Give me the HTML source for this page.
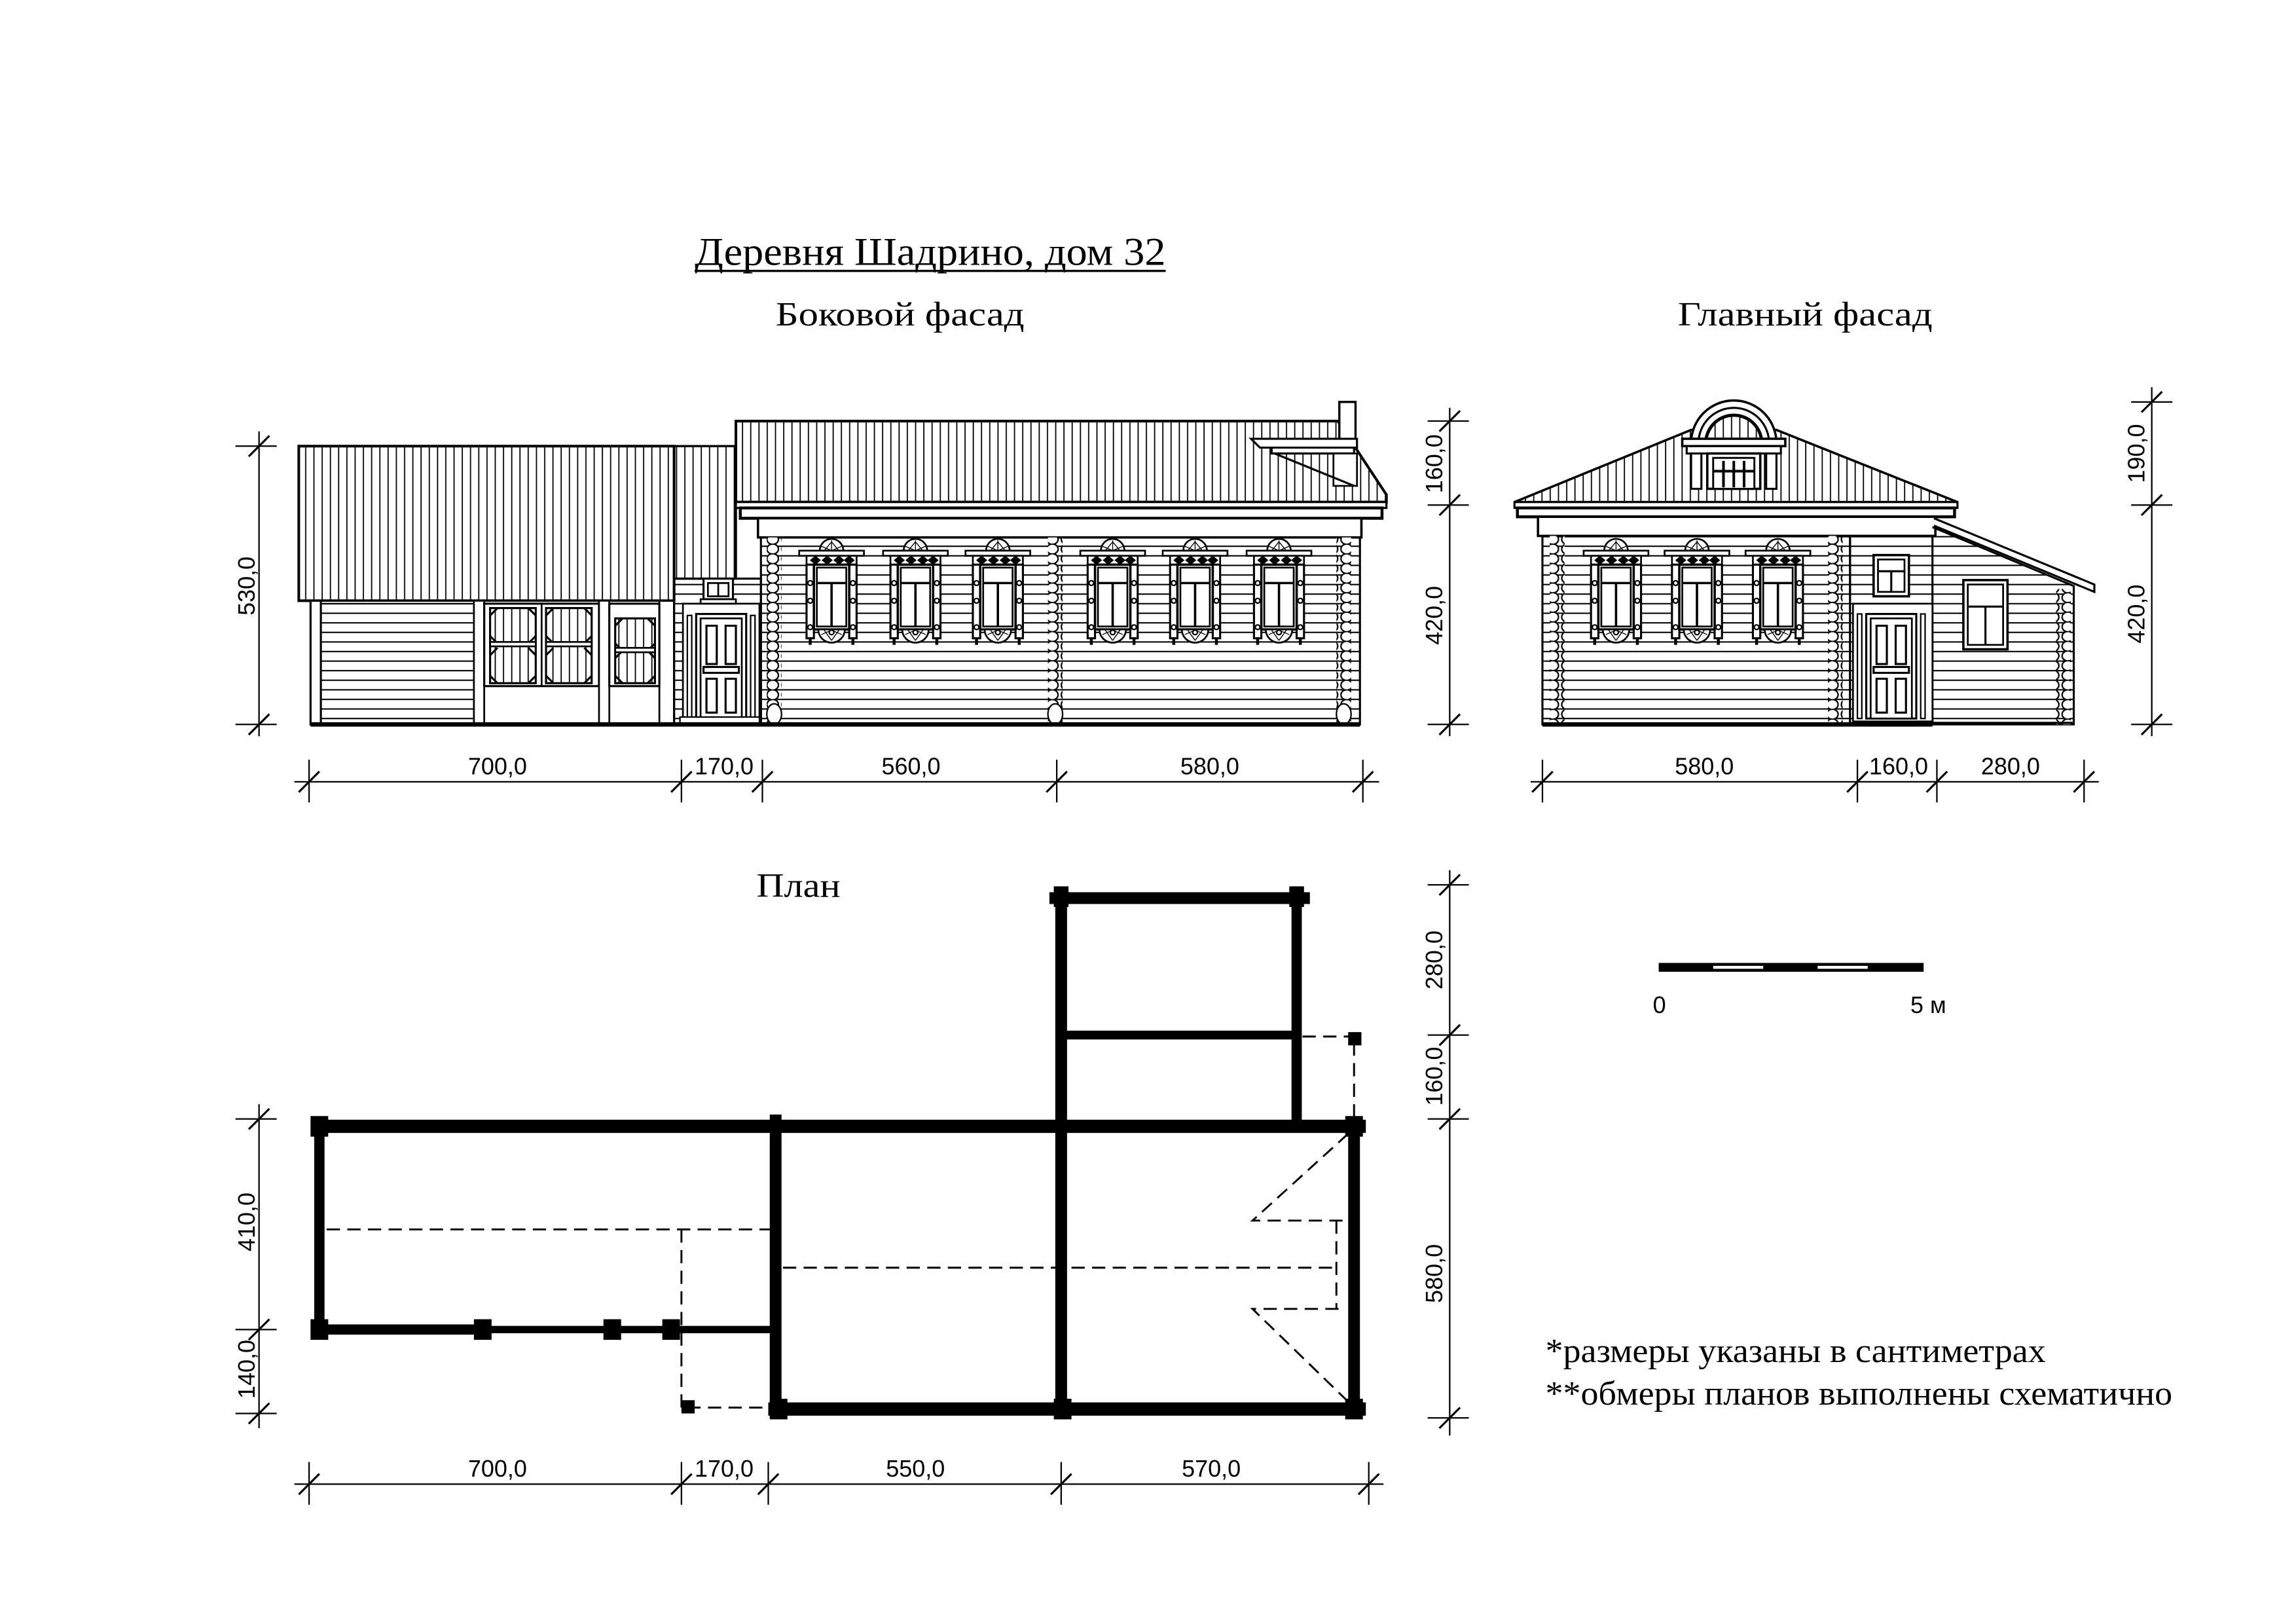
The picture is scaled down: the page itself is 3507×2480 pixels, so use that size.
<!DOCTYPE html>
<html><head><meta charset="utf-8"><style>
html,body{margin:0;padding:0;background:#fff}
svg{display:block}
.s{font-family:"Liberation Serif","Noto Serif CJK SC",serif}
.d{font-family:"Liberation Sans",sans-serif;font-size:16px}
</style></head><body>
<svg width="3507" height="2480" viewBox="0 0 1560 1103" preserveAspectRatio="none" xmlns="http://www.w3.org/2000/svg">
<defs>
<pattern id="vh" patternUnits="userSpaceOnUse" width="5.6" height="10"><line x1="0.5" y1="0" x2="0.5" y2="10" stroke="#000" stroke-width="0.8"/></pattern>
<pattern id="sd" patternUnits="userSpaceOnUse" width="10" height="6.5"><line x1="0" y1="0.5" x2="10" y2="0.5" stroke="#000" stroke-width="0.9"/></pattern>
<pattern id="lg" patternUnits="userSpaceOnUse" width="10" height="6.6"><ellipse cx="5" cy="3.3" rx="3.9" ry="3.4" fill="#fff" stroke="#000" stroke-width="1"/></pattern>
<g id="win">
 <path d="M-8,10 A8,8 0 0 1 8,10 Z" fill="#fff" stroke="#000" stroke-width="1.2"/>
 <path d="M-5,10 L0,4 M5,10 L0,4 M0,3 L0,10 M-7,7 L0,10 M7,7 L0,10" stroke="#000" stroke-width="0.6"/>
 <rect x="-22" y="10" width="44" height="3.5" fill="#fff" stroke="#000" stroke-width="1.2"/>
 <rect x="-17" y="13.5" width="34" height="6" fill="#fff" stroke="#000" stroke-width="1.2"/>
 <path d="M-14,16.5 l3,-2.5 3,2.5 -3,2.5z M-6,16.5 l3,-2.5 3,2.5 -3,2.5z M2,16.5 l3,-2.5 3,2.5 -3,2.5z M9,16.5 l3,-2.5 3,2.5 -3,2.5z" fill="#000"/>
 <rect x="-17" y="19.5" width="5" height="50" fill="#fff" stroke="#000" stroke-width="1.4"/>
 <rect x="12" y="19.5" width="5" height="50" fill="#fff" stroke="#000" stroke-width="1.4"/>
 <path d="M-14.5,70 l0,4 M14.5,70 l0,4" stroke="#000" stroke-width="2"/>
 <circle cx="-14.5" cy="32" r="1.6"/><circle cx="14.5" cy="32" r="1.6"/><circle cx="-14.5" cy="44" r="1.6"/><circle cx="14.5" cy="44" r="1.6"/><circle cx="-14.5" cy="62" r="1.6"/><circle cx="14.5" cy="62" r="1.6"/>
 <rect x="-12" y="19.5" width="24" height="44" fill="#fff" stroke="#000" stroke-width="1.6"/>
 <rect x="-10" y="21.5" width="20" height="40" fill="#fff" stroke="#000" stroke-width="1.2"/>
 <line x1="-10" y1="32" x2="10" y2="32" stroke="#000" stroke-width="1.6"/>
 <line x1="0" y1="32" x2="0" y2="61.5" stroke="#000" stroke-width="1.6"/>
 <path d="M-9,63.5 A9,9 0 0 0 9,63.5 Z" fill="#fff" stroke="#000" stroke-width="1.2"/>
 <path d="M-5,64 L0,71 M5,64 L0,71 M-7,67 L0,64 M7,67 L0,64" stroke="#000" stroke-width="0.6"/>
 <circle cx="0" cy="65.5" r="1.6"/>
</g>
<g id="door">
 <rect x="0" y="0" width="34" height="71" fill="#fff" stroke="#000" stroke-width="1.4"/>
 <rect x="3" y="3" width="28" height="68" fill="#fff" stroke="#000" stroke-width="1.2"/>
 <rect x="7" y="8" width="7" height="26" fill="#fff" stroke="#000" stroke-width="1.4"/>
 <rect x="20" y="8" width="7" height="26" fill="#fff" stroke="#000" stroke-width="1.4"/>
 <rect x="5" y="36" width="24" height="4" fill="#fff" stroke="#000" stroke-width="1.4"/>
 <rect x="7" y="44" width="7" height="23" fill="#fff" stroke="#000" stroke-width="1.4"/>
 <rect x="20" y="44" width="7" height="23" fill="#fff" stroke="#000" stroke-width="1.4"/>
</g>
<g id="tk"><line x1="-7" y1="7" x2="7" y2="-7" stroke="#000" stroke-width="1.4"/></g>
</defs>

<rect width="1560" height="1103" fill="#fff"/>

<text class="s" x="472" y="180" font-size="27" textLength="320" lengthAdjust="spacingAndGlyphs">Деревня Шадрино, дом 32</text>
<line x1="472" y1="184" x2="792" y2="184" stroke="#000" stroke-width="1.5"/>
<text class="s" x="527" y="221" font-size="23" textLength="169" lengthAdjust="spacingAndGlyphs">Боковой  фасад</text>
<text class="s" x="1140" y="221" font-size="23" textLength="173" lengthAdjust="spacingAndGlyphs">Главный  фасад</text>
<text class="s" x="514" y="609" font-size="23" textLength="57" lengthAdjust="spacingAndGlyphs">План</text>

<g fill="none" stroke="#000">
<rect x="203" y="303" width="255" height="105" fill="url(#vh)" stroke-width="1.8"/>
<rect x="458" y="303" width="42" height="90" fill="url(#vh)" stroke-width="1.5"/>
<rect x="211" y="408" width="247" height="84" fill="#fff" stroke-width="1.4"/>
<rect x="218" y="410" width="104" height="82" fill="url(#sd)" stroke-width="1"/>
<line x1="218" y1="408" x2="218" y2="492" stroke-width="1.4"/>
<rect x="322" y="408" width="7" height="84" fill="#fff" stroke-width="1.2"/>
<rect x="329" y="410" width="78" height="56" fill="#fff" stroke-width="1.4"/>
<line x1="368" y1="410" x2="368" y2="466" stroke-width="1.2"/>
<rect x="407" y="408" width="7" height="84" fill="#fff" stroke-width="1.2"/>
<rect x="414" y="410" width="34" height="56" fill="#fff" stroke-width="1.4"/>
<line x1="448" y1="408" x2="448" y2="492" stroke-width="1.2"/>
<g stroke-width="1.4">
<rect x="333" y="413" width="31" height="51" fill="url(#vh)"/>
<rect x="371" y="413" width="31" height="51" fill="url(#vh)"/>
<rect x="418" y="420" width="27" height="44" fill="url(#vh)"/>
<path d="M333,418 l5,-5 M364,418 l-5,-5 M333,459 l5,5 M364,459 l-5,5 M333,432 l5,5 M364,432 l-5,5 M333,445 l5,-5 M364,445 l-5,-5"/>
<path d="M371,418 l5,-5 M402,418 l-5,-5 M371,459 l5,5 M402,459 l-5,5 M371,432 l5,5 M402,432 l-5,5 M371,445 l5,-5 M402,445 l-5,-5"/>
<path d="M418,425 l5,-5 M445,425 l-5,-5 M418,459 l5,5 M445,459 l-5,5 M418,437 l5,5 M445,437 l-5,5 M418,447 l5,-5 M445,447 l-5,-5"/>
</g>
<rect x="333" y="436" width="31" height="3" fill="#fff" stroke-width="1.2"/>
<rect x="371" y="436" width="31" height="3" fill="#fff" stroke-width="1.2"/>
<rect x="418" y="440" width="27" height="3" fill="#fff" stroke-width="1.2"/>
<rect x="458" y="393" width="59" height="99" fill="url(#sd)" stroke-width="1.4"/>
<rect x="464" y="410" width="52" height="82" fill="#fff" stroke-width="1.2"/>
<rect x="478" y="393" width="20" height="14" fill="#fff" stroke-width="1.4"/>
<rect x="481" y="396" width="14" height="9" fill="#fff" stroke-width="1.2"/>
<line x1="488" y1="396" x2="488" y2="405" stroke-width="1.2"/>
<rect x="476" y="407" width="24" height="3" fill="#fff" stroke-width="1.2"/>
<rect x="467" y="418" width="3" height="72" fill="#fff" stroke-width="1"/>
<rect x="510" y="418" width="3" height="72" fill="#fff" stroke-width="1"/>
<use href="#door" x="473" y="417"/>
<rect x="462" y="487" width="54" height="5" fill="#fff" stroke-width="1"/>
<path d="M500,286 L909,286 L942,336 L942,341 L500,341 Z" fill="url(#vh)" stroke-width="1.8"/>
<rect x="910" y="273" width="11" height="27" fill="#fff" stroke-width="1.5"/>
<path d="M864,304 L920,304 L920,308 L864,308 Z M850,298 L922,298 L922,304 L856,304 Z" fill="#fff" stroke-width="1.4"/>
<rect x="906" y="308" width="16" height="22" fill="#fff" stroke-width="1.2"/>
<path d="M866,308 L920,330" stroke-width="1.4"/>
<rect x="500" y="341" width="442" height="4" fill="#fff" stroke-width="1.4"/>
<rect x="503" y="345" width="436" height="7" fill="#fff" stroke-width="2"/>
<rect x="515" y="352" width="410" height="13" fill="#fff" stroke-width="1.6"/>
<rect x="517" y="365" width="407" height="127" fill="url(#sd)" stroke-width="1.4"/>
<rect x="521" y="365" width="10" height="127" fill="url(#lg)" stroke="none"/>
<rect x="712" y="365" width="10" height="127" fill="url(#lg)" stroke="none"/>
<rect x="908" y="365" width="10" height="127" fill="url(#lg)" stroke="none"/>
<ellipse cx="526" cy="485" rx="5" ry="7" fill="#fff" stroke-width="1"/>
<ellipse cx="717" cy="485" rx="5" ry="7" fill="#fff" stroke-width="1"/>
<ellipse cx="913" cy="485" rx="5" ry="7" fill="#fff" stroke-width="1"/>
<use href="#win" x="565" y="364"/><use href="#win" x="622" y="364"/><use href="#win" x="678" y="364"/>
<use href="#win" x="756" y="364"/><use href="#win" x="812" y="364"/><use href="#win" x="869" y="364"/>
<line x1="211" y1="492" x2="924" y2="492" stroke-width="3"/>

<g stroke-width="1">
<line x1="176" y1="293" x2="176" y2="500"/>
<line x1="160" y1="303" x2="188" y2="303"/><line x1="160" y1="492" x2="188" y2="492"/>
<line x1="985" y1="277" x2="985" y2="500"/>
<line x1="970" y1="286" x2="998" y2="286"/><line x1="970" y1="343" x2="998" y2="343"/><line x1="970" y1="492" x2="998" y2="492"/>
<line x1="200" y1="531" x2="937" y2="531"/>
<line x1="210" y1="516" x2="210" y2="545"/><line x1="463" y1="516" x2="463" y2="545"/><line x1="518" y1="516" x2="518" y2="545"/><line x1="718" y1="516" x2="718" y2="545"/><line x1="926" y1="516" x2="926" y2="545"/>
</g>
<use href="#tk" x="176" y="303"/><use href="#tk" x="176" y="492"/>
<use href="#tk" x="985" y="286"/><use href="#tk" x="985" y="343"/><use href="#tk" x="985" y="492"/>
<use href="#tk" x="210" y="531"/><use href="#tk" x="463" y="531"/><use href="#tk" x="518" y="531"/><use href="#tk" x="718" y="531"/><use href="#tk" x="926" y="531"/>

<path d="M1029,341 L1149,292 L1207,292 L1330,341 Z" fill="url(#vh)" stroke-width="1.6"/>
<path d="M1149,301 A29,29 0 0 1 1207,301 Z" fill="#fff" stroke-width="1.6"/>
<path d="M1154,301 A24,24 0 0 1 1202,301" stroke-width="1.4"/>
<path d="M1159,301 A19,19 0 0 1 1197,301 Z" fill="url(#vh)" stroke-width="2.2"/>
<rect x="1143" y="298" width="70" height="5" fill="#fff" stroke-width="1.6"/>
<rect x="1146" y="303" width="64" height="5" fill="#fff" stroke-width="1.4"/>
<rect x="1149" y="308" width="7" height="24" fill="#fff" stroke-width="1.4"/>
<rect x="1200" y="308" width="7" height="24" fill="#fff" stroke-width="1.4"/>
<rect x="1160" y="308" width="36" height="24" fill="#fff" stroke-width="1.6"/>
<rect x="1164" y="311" width="28" height="21" fill="#fff" stroke-width="1.3"/>
<path d="M1171,313 v18 M1178,313 v18 M1185,313 v18 M1164,320 h28" stroke-width="1.8"/>
<rect x="1029" y="341" width="301" height="4" fill="#fff" stroke-width="1.4"/>
<rect x="1031" y="345" width="297" height="6" fill="#fff" stroke-width="2"/>
<rect x="1045" y="351" width="270" height="13" fill="#fff" stroke-width="1.6"/>
<path d="M1314,352 L1423,397 L1423,402 L1314,357" fill="#fff" stroke-width="1.4"/>
<rect x="1048" y="364" width="209" height="128" fill="url(#sd)" stroke-width="1.4"/>
<rect x="1257" y="364" width="56" height="128" fill="url(#sd)" stroke-width="1.4"/>
<path d="M1313,358 L1409,398 L1409,492 L1313,492" fill="url(#sd)" stroke-width="1.4"/>
<rect x="1053" y="364" width="10" height="128" fill="url(#lg)" stroke="none"/>
<rect x="1242" y="364" width="10" height="128" fill="url(#lg)" stroke="none"/>
<rect x="1397" y="400" width="10" height="92" fill="url(#lg)" stroke="none"/>
<use href="#win" x="1098" y="364"/><use href="#win" x="1153" y="364"/><use href="#win" x="1208" y="364"/>
<rect x="1273" y="377" width="24" height="28" fill="#fff" stroke-width="1.6"/>
<rect x="1276" y="380" width="18" height="22" fill="#fff" stroke-width="1.2"/>
<path d="M1276,388 h18 M1285,388 v14" stroke-width="1.4"/>
<rect x="1334" y="394" width="30" height="47" fill="#fff" stroke-width="1.6"/>
<rect x="1337" y="397" width="24" height="41" fill="#fff" stroke-width="1.2"/>
<path d="M1337,412 h24 M1349,412 v26" stroke-width="1.4"/>
<rect x="1259" y="410" width="54" height="80" fill="#fff" stroke-width="1.2"/>
<rect x="1262" y="417" width="3" height="71" fill="#fff" stroke-width="1"/>
<rect x="1305" y="417" width="3" height="71" fill="#fff" stroke-width="1"/>
<use href="#door" x="1268" y="417"/>
<line x1="1048" y1="492" x2="1313" y2="492" stroke-width="3"/>
<line x1="1313" y1="491" x2="1409" y2="491" stroke-width="1.5"/>
<g stroke-width="1">
<line x1="1040" y1="531" x2="1426" y2="531"/>
<line x1="1048" y1="516" x2="1048" y2="545"/><line x1="1262" y1="516" x2="1262" y2="545"/><line x1="1316" y1="516" x2="1316" y2="545"/><line x1="1416" y1="516" x2="1416" y2="545"/>
<line x1="1462" y1="263" x2="1462" y2="500"/>
<line x1="1448" y1="273" x2="1476" y2="273"/><line x1="1448" y1="343" x2="1476" y2="343"/><line x1="1448" y1="492" x2="1476" y2="492"/>
</g>
<use href="#tk" x="1048" y="531"/><use href="#tk" x="1262" y="531"/><use href="#tk" x="1316" y="531"/><use href="#tk" x="1416" y="531"/>
<use href="#tk" x="1462" y="273"/><use href="#tk" x="1462" y="343"/><use href="#tk" x="1462" y="492"/>

<g stroke-width="1.3" stroke-dasharray="9,5">
<line x1="222" y1="835" x2="527" y2="835"/>
<line x1="463" y1="835" x2="463" y2="956"/>
<line x1="467" y1="956" x2="522" y2="956"/>
<line x1="532" y1="861" x2="910" y2="861"/>
<line x1="885" y1="704" x2="920" y2="704"/>
<line x1="920" y1="708" x2="920" y2="762"/>
<path d="M916,770 L851,829 L914,829"/>
<path d="M916,952 L851,889 L914,889"/>
<line x1="908" y1="829" x2="908" y2="889"/>
</g>
<g stroke-linecap="butt">
<line x1="212" y1="765" x2="928" y2="765" stroke-width="9"/>
<line x1="217" y1="761" x2="217" y2="908" stroke-width="7"/>
<line x1="212" y1="903" x2="328" y2="903" stroke-width="7"/>
<line x1="328" y1="903" x2="527" y2="903" stroke-width="5"/>
<line x1="527" y1="757" x2="527" y2="963" stroke-width="8"/>
<line x1="522" y1="957" x2="928" y2="957" stroke-width="9"/>
<line x1="920" y1="761" x2="920" y2="963" stroke-width="8"/>
<line x1="721" y1="602" x2="721" y2="963" stroke-width="8"/>
<line x1="713" y1="610" x2="890" y2="610" stroke-width="8"/>
<line x1="881" y1="602" x2="881" y2="765" stroke-width="7"/>
<line x1="721" y1="703" x2="881" y2="703" stroke-width="6"/>
</g>
<g fill="#000" stroke="none">
<rect x="211" y="758" width="12" height="14"/><rect x="211" y="896" width="12" height="14"/>
<rect x="322" y="896" width="12" height="14"/><rect x="410" y="896" width="12" height="14"/><rect x="450" y="896" width="12" height="14"/>
<rect x="463" y="951" width="9" height="9"/><rect x="916" y="701" width="9" height="9"/>
<rect x="523" y="950" width="12" height="14"/><rect x="716" y="950" width="12" height="14"/><rect x="914" y="950" width="12" height="14"/>
<rect x="914" y="758" width="12" height="14"/><rect x="876" y="602" width="10" height="14"/><rect x="716" y="602" width="10" height="14"/>
</g>
<g stroke-width="1">
<line x1="176" y1="750" x2="176" y2="970"/>
<line x1="160" y1="760" x2="188" y2="760"/><line x1="160" y1="903" x2="188" y2="903"/><line x1="160" y1="960" x2="188" y2="960"/>
<line x1="985" y1="591" x2="985" y2="975"/>
<line x1="970" y1="601" x2="998" y2="601"/><line x1="970" y1="703" x2="998" y2="703"/><line x1="970" y1="760" x2="998" y2="760"/><line x1="970" y1="963" x2="998" y2="963"/>
<line x1="200" y1="1008" x2="940" y2="1008"/>
<line x1="210" y1="993" x2="210" y2="1022"/><line x1="463" y1="993" x2="463" y2="1022"/><line x1="522" y1="993" x2="522" y2="1022"/><line x1="721" y1="993" x2="721" y2="1022"/><line x1="930" y1="993" x2="930" y2="1022"/>
</g>
<use href="#tk" x="176" y="760"/><use href="#tk" x="176" y="903"/><use href="#tk" x="176" y="960"/>
<use href="#tk" x="985" y="601"/><use href="#tk" x="985" y="703"/><use href="#tk" x="985" y="760"/><use href="#tk" x="985" y="963"/>
<use href="#tk" x="210" y="1008"/><use href="#tk" x="463" y="1008"/><use href="#tk" x="522" y="1008"/><use href="#tk" x="721" y="1008"/><use href="#tk" x="930" y="1008"/>
</g>

<rect x="1127" y="654" width="180" height="6" fill="#000"/>
<rect x="1164" y="656" width="34" height="2" fill="#fff"/>
<rect x="1235" y="656" width="34" height="2" fill="#fff"/>
<text class="d" x="1123" y="688" font-size="18">0</text>
<text class="d" x="1298" y="688" font-size="18">5 м</text>

<g class="d" text-anchor="middle">
<text x="338" y="526">700,0</text><text x="492" y="526">170,0</text><text x="619" y="526">560,0</text><text x="822" y="526">580,0</text>
<text x="1158" y="526">580,0</text><text x="1290" y="526">160,0</text><text x="1366" y="526">280,0</text>
<text x="338" y="1003">700,0</text><text x="492" y="1003">170,0</text><text x="622" y="1003">550,0</text><text x="823" y="1003">570,0</text>
<text transform="translate(173,398) rotate(-90)">530,0</text>
<text transform="translate(980,315) rotate(-90)">160,0</text>
<text transform="translate(980,418) rotate(-90)">420,0</text>
<text transform="translate(1457,308) rotate(-90)">190,0</text>
<text transform="translate(1457,417) rotate(-90)">420,0</text>
<text transform="translate(173,830) rotate(-90)">410,0</text>
<text transform="translate(173,930) rotate(-90)">140,0</text>
<text transform="translate(980,652) rotate(-90)">280,0</text>
<text transform="translate(980,731) rotate(-90)">160,0</text>
<text transform="translate(980,865) rotate(-90)">580,0</text>
</g>

<text class="s" x="1050" y="925" font-size="23" textLength="340" lengthAdjust="spacingAndGlyphs">*размеры указаны в сантиметрах</text>
<text class="s" x="1050" y="954" font-size="23" textLength="426" lengthAdjust="spacingAndGlyphs">**обмеры планов выполнены схематично</text>
</svg>
</body></html>
